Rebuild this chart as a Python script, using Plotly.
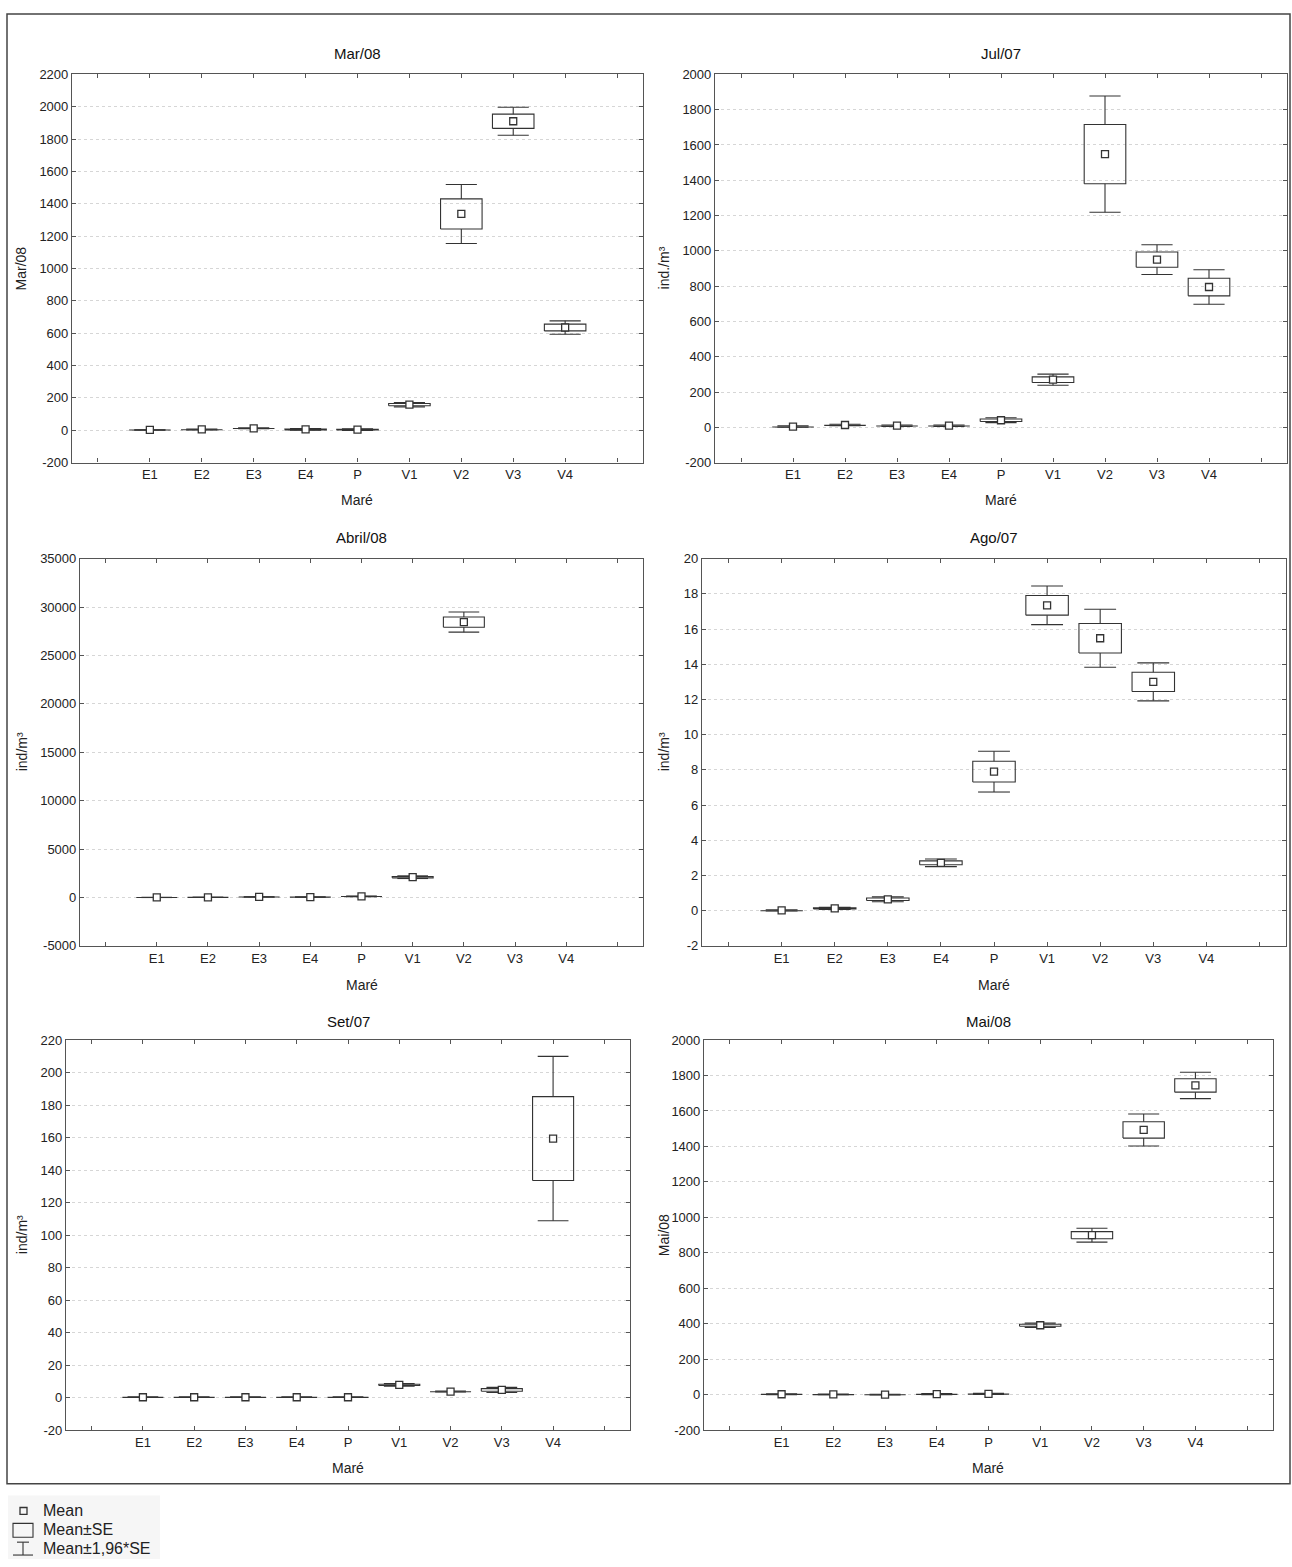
import plotly.graph_objects as go

# ---------------- data ----------------
categories = ["E1", "E2", "E3", "E4", "P", "V1", "V2", "V3", "V4"]

mar08_mean = [2, 5, 12, 5, 4, 158, 1337, 1910, 635]
mar08_se = [0.5, 1.5, 1.5, 2.5, 2.5, 7, 93, 44, 21]

jul07_mean = [4, 13, 9, 9, 40, 270, 1548, 950, 795]
jul07_se = [2, 2, 2, 2, 7, 16, 168, 43, 50]

abr08_mean = [10, 20, 60, 50, 120, 2100, 28450, None, None]
abr08_se = [5, 5, 10, 10, 20, 70, 530, None, None]

ago07_mean = [0.02, 0.13, 0.65, 2.72, 7.9, 17.35, 15.48, 13.0, None]
ago07_se = [0.02, 0.03, 0.07, 0.11, 0.59, 0.56, 0.84, 0.55, None]

set07_mean = [0.3, 0.3, 0.3, 0.3, 0.3, 7.9, 3.8, 4.8, 159.4]
set07_se = [0.1, 0.1, 0.1, 0.1, 0.1, 0.4, 0.15, 0.8, 25.8]

mai08_mean = [3, 2, 1, 4, 5, 392, 900, 1493, 1744]
mai08_se = [1, 1, 1, 1.5, 1.5, 6, 20, 46, 38]

panel_titles = ["Mar/08", "Jul/07", "Abril/08", "Ago/07", "Set/07", "Mai/08"]
y_titles = ["Mar/08", "ind./m³", "ind/m³", "ind/m³", "ind/m³", "Mai/08"]
y_ticks = [
    [-200, 0, 200, 400, 600, 800, 1000, 1200, 1400, 1600, 1800, 2000, 2200],
    [-200, 0, 200, 400, 600, 800, 1000, 1200, 1400, 1600, 1800, 2000],
    [-5000, 0, 5000, 10000, 15000, 20000, 25000, 30000, 35000],
    [-2, 0, 2, 4, 6, 8, 10, 12, 14, 16, 18, 20],
    [-20, 0, 20, 40, 60, 80, 100, 120, 140, 160, 180, 200, 220],
    [-200, 0, 200, 400, 600, 800, 1000, 1200, 1400, 1600, 1800, 2000],
]
x_title = "Maré"
ci_factor = 1.96  # Mean ± 1,96*SE

means = [mar08_mean, jul07_mean, abr08_mean, ago07_mean, set07_mean, mai08_mean]
ses = [mar08_se, jul07_se, abr08_se, ago07_se, set07_se, mai08_se]

# ---------------- layout geometry (pixels) ----------------
W, H = 1292, 1567
# (left, right, top, bottom) of each plot area
areas = [(72, 643, 68, 460), (715, 1287, 68, 460),
         (80, 643, 557, 948), (702, 1286, 557, 948),
         (66, 630, 1043, 1437), (704, 1273, 1043, 1437)]
title_y = [47, 47, 536, 536, 1024, 1024]
xtitle_y = [498, 498, 987, 987, 1475, 1475]
ytitle_x = [21, 664, 22, 664, 22, 664]


def fx(p):
    return p / W


def fy(p):
    return 1 - p / H


FONT = "Arial, Liberation Sans, sans-serif"
LINE = "#333333"
BOX_HALF = 0.4
CAP_HALF = 0.3

fig = go.Figure()
annotations = []
shapes = []
positions = list(range(1, len(categories) + 1))

for k in range(6):
    xa = "x" if k == 0 else f"x{k+1}"
    ya = "y" if k == 0 else f"y{k+1}"
    bx, by, wx, wy, mx, my = [], [], [], [], [], []
    for pos, m, s in zip(positions, means[k], ses[k]):
        if m is None:
            continue
        lo, hi = m - s, m + s
        wlo, whi = m - ci_factor * s, m + ci_factor * s
        bx += [pos - BOX_HALF, pos + BOX_HALF, pos + BOX_HALF, pos - BOX_HALF, pos - BOX_HALF, None]
        by += [lo, lo, hi, hi, lo, None]
        wx += [pos, pos, None, pos - CAP_HALF, pos + CAP_HALF, None,
               pos, pos, None, pos - CAP_HALF, pos + CAP_HALF, None]
        wy += [hi, whi, None, whi, whi, None,
               lo, wlo, None, wlo, wlo, None]
        mx.append(pos)
        my.append(m)
    fig.add_trace(go.Scatter(x=wx, y=wy, mode="lines", line=dict(color=LINE, width=1.1),
                             xaxis=xa, yaxis=ya, showlegend=False, hoverinfo="skip"))
    fig.add_trace(go.Scatter(x=bx, y=by, mode="lines", line=dict(color=LINE, width=1.1),
                             xaxis=xa, yaxis=ya, showlegend=False, hoverinfo="skip"))
    fig.add_trace(go.Scatter(x=mx, y=my, mode="markers",
                             marker=dict(symbol="square", size=7, color="white",
                                         line=dict(color=LINE, width=1.3)),
                             xaxis=xa, yaxis=ya, showlegend=False))

    l, r, t, b = areas[k]
    yt = y_ticks[k]
    xkey = "xaxis" if k == 0 else f"xaxis{k+1}"
    ykey = "yaxis" if k == 0 else f"yaxis{k+1}"
    fig.layout[xkey] = dict(
        domain=[fx(l), fx(r)], anchor=ya, range=[-0.5, len(categories) + 1.5],
        tickmode="array", tickvals=list(range(0, len(categories) + 2)),
        ticktext=[""] + categories + [""],
        showline=True, linecolor="#555", linewidth=1.2, mirror="ticks",
        ticks="inside", ticklen=4, tickcolor="#555", showgrid=False, zeroline=False,
        tickfont=dict(family=FONT, size=13, color="#222"),
    )
    fig.layout[ykey] = dict(
        domain=[fy(b), fy(t)], anchor=xa, range=[yt[0], yt[-1]],
        tickmode="array", tickvals=yt, ticktext=[str(v) for v in yt],
        showline=True, linecolor="#555", linewidth=1.2, mirror="ticks",
        ticks="inside", ticklen=4, tickcolor="#555",
        showgrid=True, gridcolor="#d6d6d6", griddash="dot", gridwidth=1, zeroline=False,
        tickfont=dict(family=FONT, size=13, color="#222"),
    )
    annotations.append(dict(text=panel_titles[k], x=fx((l + r) / 2), y=fy(title_y[k]),
                            xref="paper", yref="paper", showarrow=False,
                            xanchor="center", yanchor="middle",
                            font=dict(family=FONT, size=15, color="#111")))
    annotations.append(dict(text=x_title, x=fx((l + r) / 2), y=fy(xtitle_y[k]),
                            xref="paper", yref="paper", showarrow=False,
                            xanchor="center", yanchor="middle",
                            font=dict(family=FONT, size=14, color="#222")))
    annotations.append(dict(text=y_titles[k], x=fx(ytitle_x[k]), y=fy((t + b) / 2),
                            xref="paper", yref="paper", showarrow=False, textangle=-90,
                            xanchor="center", yanchor="middle",
                            font=dict(family=FONT, size=14, color="#222")))

# outer border
shapes.append(dict(type="rect", xref="paper", yref="paper", x0=fx(7), x1=fx(1290),
                   y0=fy(1491), y1=fy(7), line=dict(color="#444", width=1.5)))

# legend block
shapes.append(dict(type="rect", xref="paper", yref="paper", x0=fx(8), x1=fx(160),
                   y0=fy(1567), y1=fy(1503), line=dict(width=0), fillcolor="#f6f6f6",
                   layer="below"))
shapes.append(dict(type="rect", xref="paper", yref="paper", x0=fx(20), x1=fx(27),
                   y0=fy(1522), y1=fy(1515), line=dict(color=LINE, width=1.3)))
shapes.append(dict(type="rect", xref="paper", yref="paper", x0=fx(13), x1=fx(33),
                   y0=fy(1545), y1=fy(1531), line=dict(color=LINE, width=1.1)))
shapes.append(dict(type="line", xref="paper", yref="paper", x0=fx(17), x1=fx(29),
                   y0=fy(1550), y1=fy(1550), line=dict(color=LINE, width=1.1)))
shapes.append(dict(type="line", xref="paper", yref="paper", x0=fx(23), x1=fx(23),
                   y0=fy(1550), y1=fy(1563), line=dict(color=LINE, width=1.1)))
shapes.append(dict(type="line", xref="paper", yref="paper", x0=fx(13), x1=fx(33),
                   y0=fy(1563), y1=fy(1563), line=dict(color=LINE, width=1.1)))
legend_labels = ["Mean", "Mean±SE", "Mean±1,96*SE"]
legend_y = [1518, 1537, 1556]
for txt, yy in zip(legend_labels, legend_y):
    annotations.append(dict(text=txt, x=fx(41), y=fy(yy), xref="paper", yref="paper",
                            showarrow=False, xanchor="left", yanchor="middle",
                            font=dict(family=FONT, size=16, color="#222")))

fig.update_layout(width=W, height=H, margin=dict(l=0, r=0, t=0, b=0),
                  paper_bgcolor="white", plot_bgcolor="white", autosize=False,
                  annotations=annotations, shapes=shapes, showlegend=False)

fig.write_html(
    "out.html", config={"displayModeBar": False},
    post_script=("document.documentElement.style.margin='0';"
                 "document.body.style.margin='0';"),
)
